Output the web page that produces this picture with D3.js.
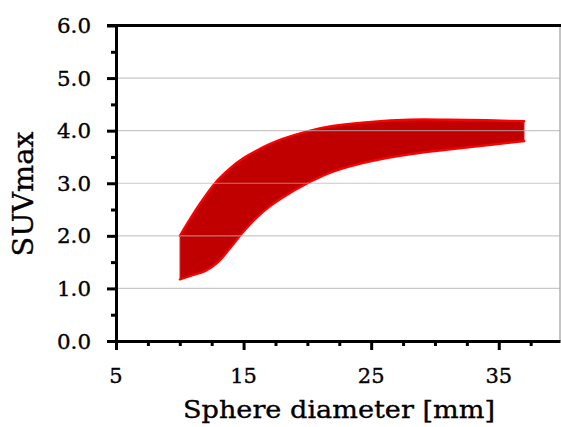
<!DOCTYPE html>
<html><head><meta charset="utf-8">
<script src="https://cdn.jsdelivr.net/npm/d3@7"></script>
<style>body{margin:0;background:#fff}svg{display:block}</style>
</head><body>
<svg id="c" width="561" height="427"></svg>
<script>
const diameters = [10, 11, 12, 13, 14, 15, 16, 17, 18, 20, 22, 25, 28, 31, 34, 37];
const upperSUV = [2.00, 2.40, 2.76, 3.07, 3.30, 3.48, 3.62, 3.74, 3.84, 3.99, 4.09, 4.17, 4.21, 4.21, 4.20, 4.18];
const lowerSUV = [1.17, 1.25, 1.33, 1.50, 1.78, 2.08, 2.34, 2.55, 2.72, 3.00, 3.22, 3.42, 3.55, 3.64, 3.72, 3.80];
const xTicks = [5, 15, 25, 35];
const yTicks = [0, 1, 2, 3, 4, 5, 6];

const svg = d3.select("#c");
const m = {l:116, r:560, t:25.5, b:341};
const x = d3.scaleLinear().domain([5, 39.8]).range([m.l, m.r]);
const y = d3.scaleLinear().domain([0, 6]).range([m.b, m.t]);
const font = "'DejaVu Serif', serif";

// band
const data = diameters.map((d,i)=>({d, u:upperSUV[i], l:lowerSUV[i]}));
const curve = d3.curveCatmullRom.alpha(0.5);
svg.append("path").datum(data)
  .attr("d", d3.area().x(p=>x(p.d)).y0(p=>y(p.l)).y1(p=>y(p.u)).curve(curve))
  .attr("fill", "#c00000").attr("stroke", "#e07070").attr("stroke-width", 0.8);
["u","l"].forEach(k=>{
  svg.append("path").datum(data)
    .attr("d", d3.line().x(p=>x(p.d)).y(p=>y(p[k])).curve(curve))
    .attr("fill","none").attr("stroke","#ff0000").attr("stroke-width",2.2)
    .attr("stroke-linecap","round");
});

// grid
svg.append("g").selectAll("line").data(yTicks.filter(v=>v>0 && v<6)).join("line")
  .attr("x1", m.l).attr("x2", m.r).attr("y1", d=>y(d)).attr("y2", d=>y(d))
  .attr("stroke", "#b0b0b0").attr("stroke-opacity", 0.7).attr("stroke-width", 1.2);

// right border
svg.append("line").attr("x1", m.r).attr("x2", m.r).attr("y1", m.t).attr("y2", m.b)
  .attr("stroke", "#b0b0b0").attr("stroke-width", 1.5);
// top border
svg.append("line").attr("x1", m.l-9).attr("x2", m.r+1).attr("y1", m.t).attr("y2", m.t)
  .attr("stroke", "#000").attr("stroke-width", 3);

// y axis
const yAxis = d3.axisLeft(y).tickValues(d3.range(0, 6.01, 0.5)).tickSize(0).tickFormat("");
const gy = svg.append("g").attr("transform", `translate(${m.l},0)`).call(yAxis);
gy.select(".domain").attr("stroke","#000").attr("stroke-width",3);
gy.selectAll(".tick line").attr("x2", d=> Number.isInteger(d) ? -9 : -5).attr("stroke","#000").attr("stroke-width",3);
svg.append("g").selectAll("text").data(yTicks).join("text")
  .attr("x", 91).attr("y", d=>y(d)+7.5).attr("text-anchor","end")
  .attr("font-family", font).attr("font-size", 21).attr("fill","#000")
  .attr("stroke","#000").attr("stroke-width",0.35)
  .attr("textLength", 34).attr("lengthAdjust","spacingAndGlyphs")
  .text(d=>d3.format(".1f")(d));

// x axis
const xAxis = d3.axisBottom(x).tickValues(d3.range(5, 39.81, 2.5)).tickSize(0).tickFormat("");
const gx = svg.append("g").attr("transform", `translate(0,${m.b})`).call(xAxis);
gx.select(".domain").attr("stroke","#000").attr("stroke-width",3);
gx.selectAll(".tick line").attr("y2", d=> (d-5)%10===0 ? 9 : 5).attr("stroke","#000").attr("stroke-width",3);
svg.append("g").selectAll("text").data(xTicks).join("text")
  .attr("x", d=>x(d)).attr("y", 383).attr("text-anchor","middle")
  .attr("font-family", font).attr("font-size", 21).attr("fill","#000")
  .attr("stroke","#000").attr("stroke-width",0.35)
  .text(d=>d);

// titles
svg.append("text").attr("x", 339).attr("y", 418).attr("text-anchor","middle")
  .attr("font-family", font).attr("font-size", 25).attr("fill","#000")
  .attr("stroke","#000").attr("stroke-width",0.35)
  .attr("textLength", 312).attr("lengthAdjust","spacingAndGlyphs")
  .text("Sphere diameter [mm]");
svg.append("text").attr("transform","translate(33,194) rotate(-90)").attr("text-anchor","middle")
  .attr("font-family", font).attr("font-size", 28).attr("fill","#000")
  .attr("stroke","#000").attr("stroke-width",0.35)
  .attr("textLength", 125).attr("lengthAdjust","spacingAndGlyphs")
  .text("SUVmax");
</script>
</body></html>
